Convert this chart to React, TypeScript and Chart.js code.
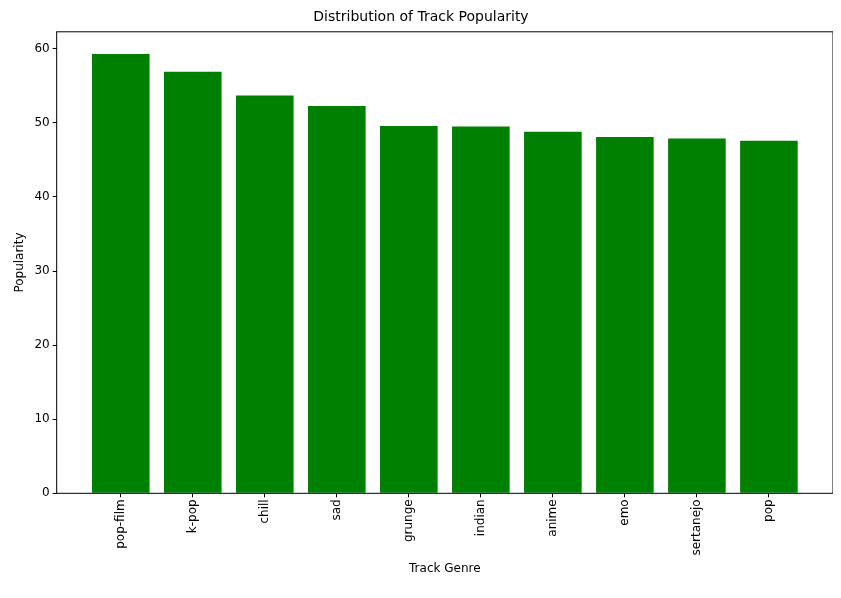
import { useEffect, useRef } from "react"
import { Chart, registerables } from "chart.js"

Chart.register(...registerables)

const genres = ["pop-film", "k-pop", "chill", "sad", "grunge", "indian", "anime", "emo", "sertanejo", "pop"]
const popularity = [59.3, 56.9, 53.7, 52.3, 49.6, 49.5, 48.8, 48.1, 47.9, 47.6]
const yTicks = [0, 10, 20, 30, 40, 50, 60]

const frame = {
  id: "frame",
  afterDraw(chart: Chart) {
    const { ctx, chartArea } = chart
    ctx.save()
    ctx.strokeStyle = "#000"
    ctx.lineWidth = 1
    ctx.strokeRect(chartArea.left, chartArea.top, chartArea.right - chartArea.left, chartArea.bottom - chartArea.top)
    ctx.restore()
  },
}

export default function App() {
  const ref = useRef<HTMLCanvasElement>(null)

  useEffect(() => {
    if (!ref.current) return
    Chart.defaults.font.family = "DejaVu Sans"
    Chart.defaults.color = "#000"
    const chart = new Chart(ref.current, {
      type: "bar",
      data: {
        datasets: [
          {
            data: popularity.map((v, i) => ({ x: i, y: v })),
            backgroundColor: "#008000",
            borderWidth: 0,
            barPercentage: 0.8,
            categoryPercentage: 1,
          },
        ],
      },
      options: {
        responsive: false,
        animation: false,
        layout: { padding: { top: 5, right: 8, left: 9, bottom: 18 } },
        plugins: {
          legend: { display: false },
          tooltip: { enabled: false },
          title: {
            display: true,
            text: "Distribution of Track Popularity",
            font: { size: 14, weight: "normal" },
            padding: { top: 4, bottom: 6 },
          },
        },
        scales: {
          x: {
            type: "linear",
            offset: false,
            min: -0.89,
            max: 9.89,
            afterBuildTicks: (s: any) => {
              s.ticks = genres.map((_, i) => ({ value: i }))
            },
            ticks: {
              callback: (v: any) => genres[v as number],
              minRotation: 90,
              maxRotation: 90,
              font: { size: 12 },
              padding: 2,
            },
            grid: { offset: false, drawOnChartArea: false, drawTicks: true, tickLength: 4, color: "#000" },
            border: { display: false },
            title: { display: true, text: "Track Genre", font: { size: 12 } },
          },
          y: {
            min: 0,
            max: 62.3,
            afterBuildTicks: (s: any) => {
              s.ticks = yTicks.map((v) => ({ value: v }))
            },
            ticks: { font: { size: 12 }, padding: 3 },
            grid: { drawOnChartArea: false, drawTicks: true, tickLength: 4, color: "#000" },
            border: { display: false },
            title: { display: true, text: "Popularity", font: { size: 12 } },
          },
        },
      },
      plugins: [frame],
    })
    return () => chart.destroy()
  }, [])

  return <canvas ref={ref} width={841} height={598} style={{ display: "block", marginTop: -8, marginLeft: -8 }} />
}
